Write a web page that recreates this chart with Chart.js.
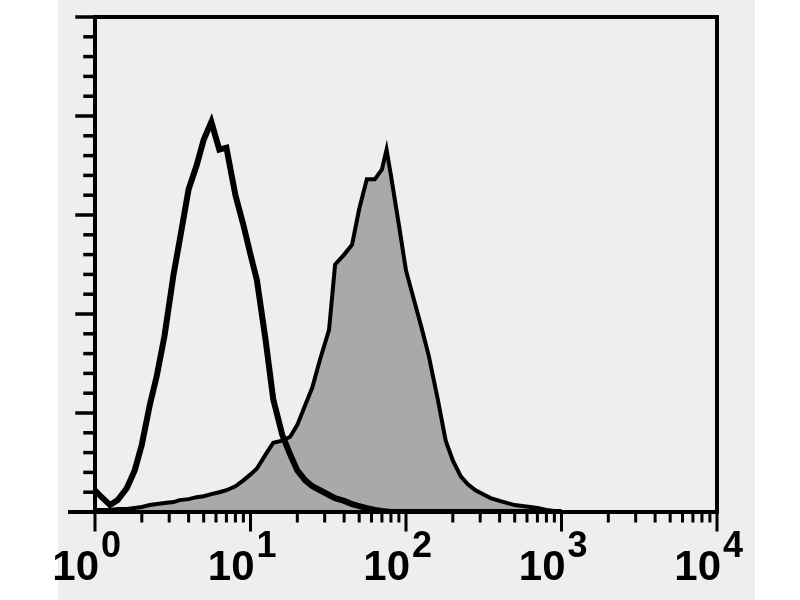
<!DOCTYPE html>
<html>
<head>
<meta charset="utf-8">
<script src="https://cdn.jsdelivr.net/npm/chart.js@4.4.0/dist/chart.umd.min.js"></script>
<style>
  html, body { margin: 0; padding: 0; background: #fff; }
  #wrap { width: 800px; height: 600px; }
</style>
</head>
<body>
<div id="wrap"><canvas id="grafica" width="800" height="600"></canvas></div>
<script>
// fluorescence channel (log scale)
const channel = [1, 1.1, 1.25, 1.4, 1.6, 1.8, 2, 2.25, 2.5, 2.8,
    3.2, 3.5, 4, 4.5, 5, 5.6, 6.3, 7, 8, 9,
    10, 11, 12.5, 14, 16, 18, 20, 22.5, 25, 28,
    32, 35, 40, 45, 50, 56, 63, 70, 75, 80,
    90, 100, 110, 125, 140, 160, 180, 200, 225, 250,
    280, 320, 350, 400, 450, 500, 560, 630, 700, 800,
    900, 1000];

// open histogram (control)
const isotype = [11, 7.6, 3.5, 6, 12, 21, 34, 54, 69, 89,
    120, 137, 163, 175, 188, 197, 183, 184, 160, 145,
    130, 117, 87, 57, 39, 29, 21, 16, 13, 11,
    8.6, 7, 5.6, 4, 3, 2, 1, 0.5, 0.3, 0,
    0, 0, 0, 0, 0, 0, 0, 0, 0, 0,
    0, 0, 0, 0, 0, 0, 0, 0, 0, 0,
    0, 0];

// filled histogram (stained)
const stained = [1, 1, 1, 1.5, 1.5, 2, 2.5, 3.5, 4, 4.5,
    5, 6, 6.5, 7.5, 8, 9, 10, 11, 13, 16,
    19, 22, 29, 35, 36, 38, 44, 54, 63, 77,
    92, 125, 130, 135, 153, 168, 168, 173, 183, 170,
    145, 122, 110, 94, 79, 57, 36, 26, 18, 14,
    11, 8.6, 7, 5.6, 4.5, 3.5, 3, 2.5, 2, 1,
    0.5, 0];

const decades = [1, 10, 100, 1000, 10000];
const exponents = ['0', '1', '2', '3', '4'];
const yMax = 250;
const yStep = 10;

// fondo, marco, ticks y etiquetas
const marcoPlugin = {
    id: 'marco',
    beforeDraw(chart) {
        const ctx = chart.ctx;
        ctx.save();
        ctx.fillStyle = '#ffffff';
        ctx.fillRect(0, 0, chart.width, chart.height);
        ctx.fillStyle = '#eeeeee';
        ctx.fillRect(58, 0, 697, chart.height);
        ctx.restore();
    },
    afterDraw(chart) {
        const ctx = chart.ctx;
        const xs = chart.scales.x;
        const ys = chart.scales.y;
        const a = chart.chartArea;
        ctx.save();
        ctx.strokeStyle = '#000';
        ctx.fillStyle = '#000';
        ctx.lineCap = 'square';

        // frame
        ctx.lineWidth = 4;
        ctx.strokeRect(a.left, a.top, a.right - a.left, a.bottom - a.top);
        ctx.beginPath();
        ctx.moveTo(a.left - 25, a.bottom);
        ctx.lineTo(a.left, a.bottom);
        ctx.stroke();

        // y ticks
        ctx.lineWidth = 3.5;
        for (let v = yStep; v <= yMax; v += yStep) {
            const py = ys.getPixelForValue(v);
            const len = (v % 50 === 0) ? 18 : 10;
            ctx.beginPath();
            ctx.moveTo(a.left - len, py);
            ctx.lineTo(a.left, py);
            ctx.stroke();
        }

        // x ticks
        ctx.lineWidth = 3;
        for (let d = 0; d < decades.length; d++) {
            for (let m = 1; m <= 9; m++) {
                const v = decades[d] * m;
                if (v > decades[decades.length - 1]) break;
                const px = xs.getPixelForValue(v);
                const len = (m === 1) ? 18 : 9;
                ctx.beginPath();
                ctx.moveTo(px, a.bottom);
                ctx.lineTo(px, a.bottom + len);
                ctx.stroke();
            }
        }

        // x labels 10^n
        ctx.textBaseline = 'alphabetic';
        decades.forEach((v, i) => {
            const px = xs.getPixelForValue(v);
            ctx.font = 'bold 42px "Liberation Sans"';
            ctx.textAlign = 'right';
            ctx.fillText('10', px + 4, 580);
            ctx.font = 'bold 36px "Liberation Sans"';
            ctx.textAlign = 'left';
            ctx.fillText(exponents[i], px + 6, 557);
        });
        ctx.restore();
    }
};

const ctx = document.getElementById('grafica').getContext('2d');
new Chart(ctx, {
    type: 'line',
    data: {
        datasets: [{
            label: 'isotype',
            data: channel.map((c, i) => ({ x: c, y: isotype[i] })),
            borderColor: '#000',
            borderWidth: 6,
            fill: false,
            pointRadius: 0,
            tension: 0,
            order: 0
        }, {
            label: 'stained',
            data: channel.map((c, i) => ({ x: c, y: stained[i] })),
            borderColor: '#000',
            backgroundColor: '#a9a9a9',
            borderWidth: 4,
            fill: 'origin',
            pointRadius: 0,
            tension: 0,
            order: 1
        }]
    },
    options: {
        responsive: false,
        animation: false,
        layout: { padding: { left: 95, right: 83, top: 17, bottom: 88 } },
        plugins: { legend: { display: false }, tooltip: { enabled: false } },
        scales: {
            x: { type: 'logarithmic', min: 1, max: 10000, display: false },
            y: { type: 'linear', min: 0, max: yMax, display: false }
        }
    },
    plugins: [marcoPlugin]
});
</script>
</body>
</html>
